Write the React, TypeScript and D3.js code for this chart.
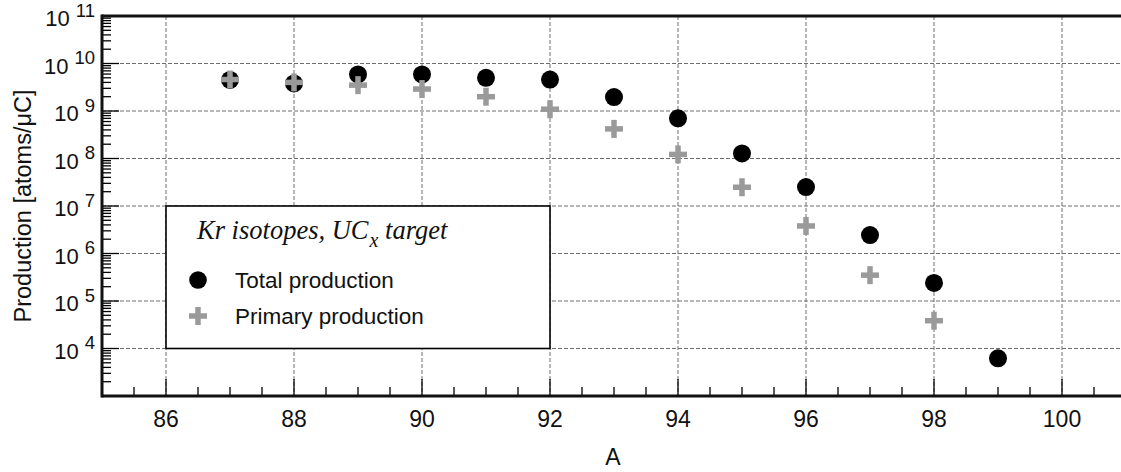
import React from "react";
import * as d3 from "d3";

const massNumbers = [87, 88, 89, 90, 91, 92, 93, 94, 95, 96, 97, 98, 99];
const totalProduction = [4.5e9, 3.8e9, 5.9e9, 5.9e9, 5.0e9, 4.6e9, 1.97e9, 7.0e8, 1.28e8, 2.5e7, 2.45e6, 2.4e5, 6.2e3];
const primaryMass = [87, 88, 89, 90, 91, 92, 93, 94, 95, 96, 97, 98];
const primaryProduction = [4.6e9, 4.0e9, 3.5e9, 2.9e9, 2.0e9, 1.09e9, 4.2e8, 1.22e8, 2.48e7, 3.8e6, 3.5e5, 3.85e4];
const xTickLabels = [86, 88, 90, 92, 94, 96, 98, 100];
const yExponents = [4, 5, 6, 7, 8, 9, 10, 11];
const legendTitle = "Kr isotopes, UC";
const legendTitleSub = "x";
const legendTitleEnd = " target";
const legendLabels = ["Total production", "Primary production"];
const yTitle = "Production [atoms/\u03bcC]";
const xTitle = "A";

const W = 1121;
const H = 472;
const SANS = "'Liberation Sans', Arial, sans-serif";
const SERIF = "'Liberation Serif', 'Times New Roman', serif";
const GREY = "#9a9a9a";

function Plus({ cx, cy, size = 18, thick = 5.5, fill = GREY }: any) {
  const h = size / 2;
  const t = thick / 2;
  return (
    <g fill={fill}>
      <rect x={cx - h} y={cy - t} width={size} height={thick} />
      <rect x={cx - t} y={cy - h} width={thick} height={size} />
    </g>
  );
}

export default function App() {
  const x = d3.scaleLinear().domain([85, 101]).range([102, 1126]);
  const y = d3.scaleLog().domain([1e3, 1e11]).range([396, 16]);
  const [x0] = x.range();
  const [yb, yt] = y.range();

  const xMinor = d3.range(85.5, 101, 0.5).filter((v) => Math.abs(v / 2 - Math.round(v / 2)) > 1e-6);
  const yMinor: number[] = [];
  for (let e = 3; e < 11; e++) for (let m = 2; m <= 9; m++) yMinor.push(m * Math.pow(10, e));

  const lx0 = x(86), lx1 = x(92), ly0 = y(1e7), ly1 = y(1e4);

  return (
    <svg width={W} height={H} style={{ position: "absolute", left: 0, top: 0, background: "#fff" }}>
      <rect x={0} y={0} width={W} height={H} fill="#fff" />
      {/* grid */}
      <g stroke="#6e6e6e" strokeWidth={1} strokeDasharray="4 2">
        {xTickLabels.map((v) => (
          <line key={"gx" + v} x1={x(v)} x2={x(v)} y1={yt} y2={yb} />
        ))}
        {yExponents.slice(0, -1).map((e) => (
          <line key={"gy" + e} x1={x0} x2={W} y1={y(Math.pow(10, e))} y2={y(Math.pow(10, e))} />
        ))}
      </g>
      {/* ticks */}
      <g stroke="#000" strokeWidth={1.3}>
        {xTickLabels.map((v) => (
          <line key={"xt" + v} x1={x(v)} x2={x(v)} y1={yb} y2={yb - 17} />
        ))}
        {xMinor.map((v) => (
          <line key={"xm" + v} x1={x(v)} x2={x(v)} y1={yb} y2={yb - 9} />
        ))}
        {yExponents.map((e) => (
          <line key={"yt" + e} x1={x0} x2={x0 + 17} y1={y(Math.pow(10, e))} y2={y(Math.pow(10, e))} />
        ))}
        {yMinor.map((v) => (
          <line key={"ym" + v} x1={x0} x2={x0 + 9} y1={y(v)} y2={y(v)} />
        ))}
      </g>
      {/* frame */}
      <g stroke="#111" strokeWidth={3} fill="none">
        <line x1={x0} x2={W} y1={yt} y2={yt} />
        <line x1={x0} x2={W} y1={yb} y2={yb} />
        <line x1={x0} x2={x0} y1={yt - 1.5} y2={yb + 1.5} />
      </g>
      {/* x tick labels */}
      <g fontFamily={SANS} fontSize={23} fill="#111" textAnchor="middle">
        {xTickLabels.map((v) => (
          <text key={"xl" + v} x={x(v)} y={427}>{v}</text>
        ))}
      </g>
      {/* y tick labels */}
      <g fontFamily={SANS} fill="#111" textAnchor="end">
        {yExponents.map((e) => (
          <text key={"yl" + e} x={95} y={y(Math.pow(10, e)) + 10} fontSize={22}>
            10
            <tspan dx={6} dy={-9.5} fontSize={18.5}>{e}</tspan>
          </text>
        ))}
      </g>
      {/* axis titles */}
      <text
        fontFamily={SANS}
        fontSize={23.5}
        fill="#111"
        textAnchor="middle"
        transform={`translate(30.5, ${(87 + 325) / 2}) rotate(-90)`}
      >
        {yTitle}
      </text>
      <text fontFamily={SANS} fontSize={23} fill="#111" textAnchor="middle" x={613} y={465}>
        {xTitle}
      </text>
      {/* legend */}
      <rect x={lx0} y={ly0} width={lx1 - lx0} height={ly1 - ly0} fill="#fff" stroke="#000" strokeWidth={1.6} />
      <text fontFamily={SERIF} fontStyle="italic" fontSize={26.5} fill="#111" x={197} y={239}>
        {legendTitle}
        <tspan fontSize={20} dx={1} dy={8}>{legendTitleSub}</tspan>
        <tspan fontSize={26.5} dy={-8}>{legendTitleEnd}</tspan>
      </text>
      <circle cx={198} cy={280} r={8.8} fill="#000" />
      <Plus cx={198} cy={316} />
      <g fontFamily={SANS} fontSize={22.5} fill="#111">
        <text x={235} y={288}>{legendLabels[0]}</text>
        <text x={235} y={324}>{legendLabels[1]}</text>
      </g>
      {/* data */}
      {massNumbers.map((a, i) => (
        <circle key={"c" + a} cx={x(a)} cy={y(totalProduction[i])} r={9} fill="#000" />
      ))}
      {primaryMass.map((a, i) => (
        <Plus key={"p" + a} cx={x(a)} cy={y(primaryProduction[i])} />
      ))}
    </svg>
  );
}
